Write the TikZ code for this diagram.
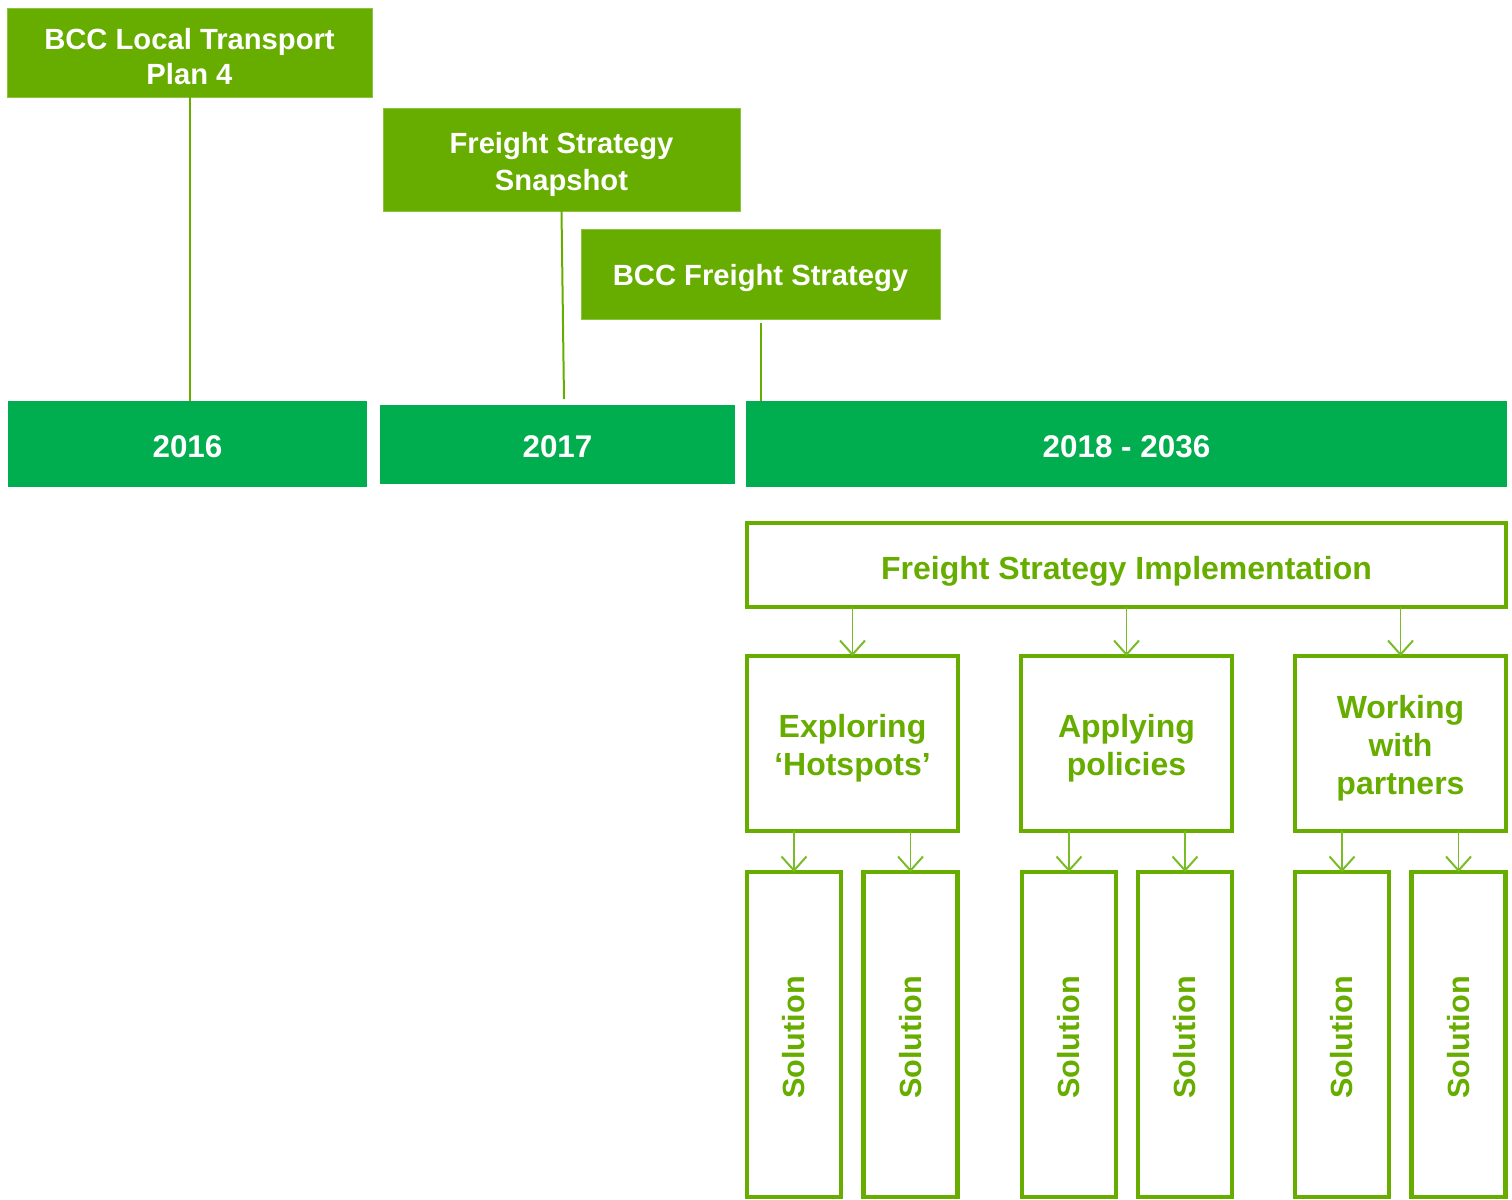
\documentclass[tikz,border=0pt]{standalone}
\usepackage{fontspec}
\setmainfont{Liberation Sans}
\usetikzlibrary{arrows.meta}
\definecolor{lgreen}{RGB}{102,173,0}
\definecolor{lgreenedge}{RGB}{140,195,60}
\definecolor{dgreen}{RGB}{0,173,79}
\definecolor{arrgreen}{RGB}{120,188,40}
\begin{document}
\begin{tikzpicture}[x=0.5pt,y=-0.5pt,
  topbox/.style={fill=lgreen,draw=lgreenedge,line width=0.5pt,inner sep=0pt,outer sep=0pt},
  toptext/.style={text=white,font=\fontsize{14.6}{17.5}\selectfont\bfseries,align=center,inner sep=0pt},
  yearbox/.style={fill=dgreen,inner sep=0pt,outer sep=0pt},
  yeartext/.style={text=white,font=\fontsize{15.7}{19}\selectfont\bfseries,inner sep=0pt},
  outbox/.style={draw=lgreen,line width=2.4pt,fill=white,inner sep=0pt,outer sep=0pt},
  outtext/.style={text=lgreen,font=\fontsize{16}{19}\selectfont\bfseries,align=center,inner sep=0pt},
  solbox/.style={outbox,minimum width=47pt,minimum height=162.5pt},
  soltext/.style={text=lgreen,font=\fontsize{15.3}{18}\selectfont\bfseries,rotate=90,inner sep=0pt},
  link/.style={draw=lgreen,line width=1pt},
  arr/.style={draw=arrgreen,line width=0.7pt,-{Straight Barb[length=7pt,width=12.5pt,line width=1pt]}}
]
\useasboundingbox (0,0) rectangle (1512,1200);
% top documents
\node[topbox,minimum width=182.5pt,minimum height=44.5pt] (ltp) at (189.5,52.5) {};
\node[toptext] (ltpt) at ([yshift=-2pt]ltp.center) {BCC Local Transport\\Plan 4};
\node[topbox,minimum width=178.5pt,minimum height=51.5pt] (snap) at (561.5,159.5) {};
\node[toptext,font=\fontsize{14.6}{18.5}\selectfont\bfseries] (snapt) at ([yshift=-2.3pt]snap.center) {Freight Strategy\\Snapshot};
\node[topbox,minimum width=179.5pt,minimum height=45pt] (fs) at (760.5,274) {};
\node[toptext] (fst) at ([yshift=-2pt]fs.center) {BCC Freight Strategy};
% years
\node[yearbox,minimum width=179.5pt,minimum height=43pt] (y16) at (187.5,444) {};
\node[yeartext] (y16t) at ([yshift=-1.5pt]y16.center) {2016};
\node[yearbox,minimum width=177.5pt,minimum height=39.5pt] (y17) at (557.5,444.5) {};
\node[yeartext] (y17t) at ([yshift=-1.2pt]y17.center) {2017};
\node[yearbox,minimum width=380.5pt,minimum height=43pt] (y18) at (1126.5,444) {};
\node[yeartext] (y18t) at ([yshift=-1.5pt]y18.center) {2018 - 2036};
% links
\coordinate (l1) at (ltp.south |- y16.north);
\coordinate (s1) at (564,399);
\coordinate (f0) at (761,323);
\coordinate (f1) at (f0 |- y18.north);
\draw[link] (ltp.south) -- (l1);
\draw[link] (snap.south) -- (s1);
\draw[link] (f0) -- (f1);
% implementation
\node[outbox,minimum width=379.5pt,minimum height=42pt] (impl) at (1126.5,565) {};
\node[outtext] (implt) at ([yshift=-3pt]impl.center) {Freight Strategy Implementation};
\node[outbox,minimum width=105.5pt,minimum height=87.5pt] (c1) at (852.5,743.5) {};
\node[outtext] (c1t) at ([yshift=-2.5pt]c1.center) {Exploring\\‘Hotspots’};
\node[outbox,minimum width=105.5pt,minimum height=87.5pt] (c2) at (1126.5,743.5) {};
\node[outtext] (c2t) at ([yshift=-2.5pt]c2.center) {Applying\\policies};
\node[outbox,minimum width=105.5pt,minimum height=87.5pt] (c3) at (1400.5,743.5) {};
\node[outtext] (c3t) at ([yshift=-2.5pt]c3.center) {Working\\with\\partners};
\foreach \c in {c1,c2,c3}{
  \draw[arr] (\c.north |- impl.south) -- (\c.north);
}
% solutions
\foreach \n/\x/\p in {s11/794/c1,s12/910.5/c1,s21/1069/c2,s22/1185/c2,s31/1342/c3,s32/1458.5/c3}{
  \node[solbox] (\n) at (\x,1034.5) {};
  \node[soltext] (\n t) at ([yshift=-1.5pt]\n.center) {Solution};
  \draw[arr] (\n.north |- \p.south) -- (\n.north);
}
\end{tikzpicture}
\end{document}
